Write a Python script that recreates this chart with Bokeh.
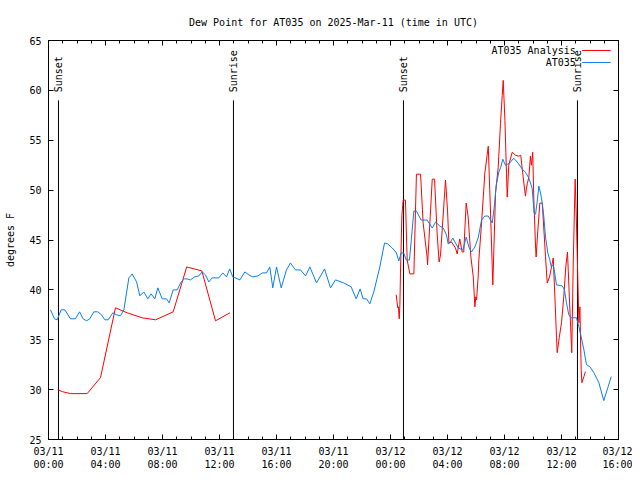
import math
from bokeh.plotting import figure
from bokeh.models import FixedTicker, LinearAxis, Range1d
from bokeh.embed import file_html
from bokeh.resources import INLINE
from bokeh.core.properties import value

TITLE = "Dew Point for AT035 on 2025-Mar-11 (time in UTC)"
Y_LABEL = "degrees F"
FONT = "DejaVu Sans Mono"

# x positions in hours after 2025-03-11 00:00 UTC
tick_hours = [0, 4, 8, 12, 16, 20, 24, 28, 32, 36, 40]
tick_labels = ["03/11\n00:00", "03/11\n04:00", "03/11\n08:00", "03/11\n12:00",
               "03/11\n16:00", "03/11\n20:00", "03/12\n00:00", "03/12\n04:00",
               "03/12\n08:00", "03/12\n12:00", "03/12\n16:00"]
minor_hours = list(range(0, 41))
y_ticks = [25, 30, 35, 40, 45, 50, 55, 60, 65]

# AT035 observations
obs_hours = [0.14, 0.42, 0.61, 0.89, 1.15, 1.54, 1.89, 2.18, 2.43, 2.67, 2.90, 3.18, 3.46,
             3.72, 3.95, 4.19, 4.51, 4.77, 5.05, 5.29, 5.64, 5.87, 6.18, 6.41, 6.69, 6.97,
             7.20, 7.46, 7.67, 7.98, 8.28, 8.47, 8.75, 9.03, 9.31, 9.54, 9.73, 9.96, 10.25,
             10.55, 10.78, 11.02, 11.25, 11.49, 11.95, 12.23, 12.49, 12.72, 12.93, 13.12,
             13.43, 13.78, 14.06, 14.34, 14.69, 15.00, 15.30, 15.53, 15.74, 16.00, 16.33,
             16.70, 16.98, 17.33, 17.68, 18.04, 18.34, 18.81, 19.37, 19.79, 20.14, 20.72,
             21.24, 21.59, 21.87, 22.08, 22.32, 22.55, 22.83, 23.25, 23.58, 23.81, 24.12,
             24.42, 24.58, 24.75, 24.93, 25.10, 25.33, 25.64, 25.82, 26.15, 26.57, 26.93,
             27.16, 27.46, 27.70, 27.93, 28.05, 28.21, 28.37, 28.56, 28.75, 29.08, 29.21,
             29.31, 29.50, 29.68, 29.92, 30.15, 30.39, 30.62, 30.86, 31.14, 31.28, 31.42,
             31.60, 31.74, 31.88, 32.07, 32.35, 32.65, 32.96, 33.24, 33.47, 33.71, 33.94,
             34.08, 34.18, 34.29, 34.41, 34.53, 34.65, 34.76, 34.88, 35.04, 35.18, 35.28,
             35.42, 35.51, 35.65, 36.05, 36.21, 36.35, 36.51, 36.68, 36.87, 37.05, 37.22,
             37.38, 37.57, 37.75, 37.99, 38.27, 38.62, 38.97, 39.25, 39.49]
obs_vals = [38.0, 37.1, 37.0, 38.0, 38.0, 37.1, 37.1, 37.8, 37.1, 36.9, 37.1, 37.8, 37.8,
            37.5, 37.0, 37.0, 37.7, 37.5, 37.4, 38.0, 41.2, 41.6, 40.8, 39.4, 39.8, 39.1,
            39.6, 39.1, 40.2, 39.1, 39.1, 38.7, 40.0, 40.0, 40.8, 41.1, 41.1, 41.0, 41.3,
            41.4, 41.8, 41.5, 40.8, 41.2, 41.2, 41.7, 41.3, 42.1, 41.3, 41.2,
            41.0, 41.8, 41.5, 41.3, 41.4, 41.7, 41.7, 42.3, 40.2, 42.3, 40.2,
            42.0, 42.7, 42.0, 42.0, 41.4, 42.3, 40.7, 42.1, 40.2, 41.0, 40.7,
            40.3, 39.1, 40.1, 39.1, 39.1, 38.6, 39.8, 42.3, 44.7, 44.6, 44.2,
            43.7, 42.9, 43.7, 43.7, 43.0, 43.0, 47.9, 47.9, 47.0, 47.0, 46.2,
            46.8, 46.4, 46.2, 45.5, 44.6, 44.8, 45.2, 44.7, 44.2, 44.0, 44.7,
            45.3, 44.3, 43.8, 44.3, 45.2, 47.0, 47.4, 47.4, 46.7, 48.3, 50.5,
            51.8, 52.3, 53.1, 52.5, 52.7, 53.2, 52.7, 52.1, 51.8, 51.2, 50.2,
            47.7, 47.6, 48.8, 50.4, 49.7, 48.7, 47.3, 45.3, 43.7, 43.0, 42.3,
            42.5, 41.8, 40.5, 40.4, 40.0, 38.7, 37.5, 37.2, 37.2, 37.2, 36.3,
            35.3, 34.0, 32.5, 32.3, 31.7, 30.7, 28.9, 30.2, 31.3]

# AT035 Analysis, first day
ana1_hours = [0.65, 0.96, 1.54, 2.71, 3.65, 4.70, 5.52, 6.57, 7.51, 8.75, 9.70, 10.76,
              11.72, 12.73]
ana1_vals = [30.0, 29.8, 29.6, 29.6, 31.2, 38.2, 37.7, 37.2, 37.0, 37.8, 42.3, 41.9,
             36.9, 37.7]

# AT035 Analysis, second day
ana2_hours = [24.40, 24.46, 24.51, 24.56, 24.61, 24.66, 24.70, 24.80, 24.89, 25.05, 25.17,
              25.36, 25.64, 25.82, 26.11, 26.29, 26.57, 26.60, 26.93, 27.09, 27.27, 27.41,
              27.51, 27.86, 28.00, 28.10, 28.28, 28.56, 28.68, 28.86, 29.03, 29.14, 29.31,
              29.45, 29.64, 29.81, 29.92, 29.99, 30.04, 30.15, 30.20, 30.39, 30.62, 30.86,
              31.02, 31.18, 31.37, 31.56, 31.72, 31.84, 31.91, 32.03, 32.14, 32.19, 32.30,
              32.54, 32.77, 33.00, 33.14, 33.31, 33.47, 33.54, 33.61, 33.71, 33.82, 33.89,
              33.98, 34.06, 34.18, 34.22, 34.34, 34.48, 34.65, 34.88, 34.95, 35.00, 35.16,
              35.30, 35.42, 35.56, 35.65, 35.70, 35.84, 36.00, 36.16, 36.30, 36.42, 36.53,
              36.68, 36.72, 36.82, 36.91, 36.96, 37.05, 37.22, 37.29, 37.38, 37.43, 37.57,
              37.68]
ana2_vals = [39.5, 38.8, 38.2, 38.3, 37.1, 38.5, 41.7, 47.5, 49.0, 49.0, 43.0,
             41.6, 41.6, 51.6, 51.6, 46.7, 43.3, 42.5, 51.1, 51.1, 45.7, 42.8,
             43.5, 51.0, 48.0, 44.7, 44.8, 44.2, 43.6, 45.1, 43.8, 43.8, 48.7,
             47.3, 43.3, 41.3, 38.3, 39.3, 39.0, 41.3, 43.0, 46.7, 51.7, 54.4,
             47.7, 40.5, 49.7, 52.3, 56.7, 59.5, 61.0, 57.0, 51.7, 49.3, 52.5,
             53.8, 53.5, 53.4, 53.5, 51.3, 49.4, 50.2, 50.7, 51.3, 53.4, 52.5,
             53.8, 49.0, 44.3, 43.3, 46.0, 48.7, 48.7, 43.3, 41.7, 40.7, 41.3,
             42.3, 43.2, 38.5, 35.2, 33.7, 35.2, 36.7, 39.3, 42.3, 43.8, 40.0,
             35.0, 33.7, 42.3, 48.2, 51.1, 46.7, 36.7, 38.3, 32.0, 30.7, 31.3,
             31.8]

sun_events = ["Sunset", "Sunrise", "Sunset", "Sunrise"]
sun_hours = [0.70, 12.98, 24.91, 37.12]

series_names = ["AT035 Analysis", "AT035"]
series_colors = ["#ff0000", "#0a7ef0"]

X0, X1, Y0, Y1 = 0, 40, 25, 65

p = figure(width=632, height=472, x_range=Range1d(X0, X1), y_range=Range1d(Y0, Y1),
           output_backend="svg", toolbar_location=None,
           min_border_left=48, min_border_right=14, min_border_top=40, min_border_bottom=32)
p.background_fill_color = "white"
p.border_fill_color = "white"
p.outline_line_color = "black"
p.outline_line_width = 1
p.xgrid.visible = False
p.ygrid.visible = False

p.title.text = TITLE
p.title.align = "center"
p.title.text_font = FONT
p.title.text_font_size = "10px"
p.title.text_font_style = "normal"
p.title.text_color = "black"
p.title.standoff = 25


def style_axis(ax, show_labels):
    ax.axis_line_color = "black"
    ax.major_tick_line_color = "black"
    ax.minor_tick_line_color = "black"
    ax.major_tick_in = 5
    ax.major_tick_out = 0
    ax.minor_tick_in = 3
    ax.minor_tick_out = 0
    ax.major_label_text_font = FONT
    ax.major_label_text_font_size = "10px"
    ax.major_label_text_color = "black"
    if not show_labels:
        ax.major_label_standoff = 0


xt = FixedTicker(ticks=tick_hours, minor_ticks=minor_hours)
yt = FixedTicker(ticks=y_ticks, minor_ticks=[])

xa = p.xaxis[0]
xa.ticker = xt
xa.major_label_overrides = {h: lab for h, lab in zip(tick_hours, tick_labels)}
style_axis(xa, True)
xa.major_label_standoff = 6

ya = p.yaxis[0]
ya.ticker = yt
style_axis(ya, True)
ya.major_label_standoff = 7
ya.axis_label = Y_LABEL
ya.axis_label_text_font = FONT
ya.axis_label_text_font_size = "10px"
ya.axis_label_text_font_style = "normal"
ya.axis_label_text_color = "black"
ya.axis_label_standoff = 10

top = LinearAxis(ticker=FixedTicker(ticks=tick_hours, minor_ticks=minor_hours),
                 major_label_overrides={h: "" for h in tick_hours})
style_axis(top, False)
p.add_layout(top, "above")
right = LinearAxis(ticker=FixedTicker(ticks=y_ticks, minor_ticks=[]),
                   major_label_overrides={v: "" for v in y_ticks})
style_axis(right, False)
p.add_layout(right, "right")

# sunrise / sunset markers
SUN_TOP = 59.0
p.segment(x0=sun_hours, y0=[Y0] * len(sun_hours), x1=sun_hours, y1=[SUN_TOP] * len(sun_hours),
          line_color="black", line_width=1)
p.text(x=sun_hours, y=[SUN_TOP + 0.8] * len(sun_hours), text=sun_events, angle=math.pi / 2,
       text_align="left", text_baseline="middle", text_font=value(FONT),
       text_font_size="10px", text_color="black")

# data
p.line(ana1_hours, ana1_vals, line_color=series_colors[0], line_width=1)
p.line(ana2_hours, ana2_vals, line_color=series_colors[0], line_width=1)
p.line(obs_hours, obs_vals, line_color=series_colors[1], line_width=1)

# gnuplot-style key (text then sample line)
key_text_x = 37.0
key_line_x = [37.45, 39.45]
key_y = [64.0, 62.8]
p.text(x=[key_text_x] * 2, y=key_y, text=series_names, text_align="right",
       text_baseline="middle", text_font=value(FONT), text_font_size="10px",
       text_color="black")
p.segment(x0=[key_line_x[0]] * 2, y0=key_y, x1=[key_line_x[1]] * 2, y1=key_y,
          line_color=series_colors, line_width=1)

open("out.html", "w").write(file_html(p, INLINE))
